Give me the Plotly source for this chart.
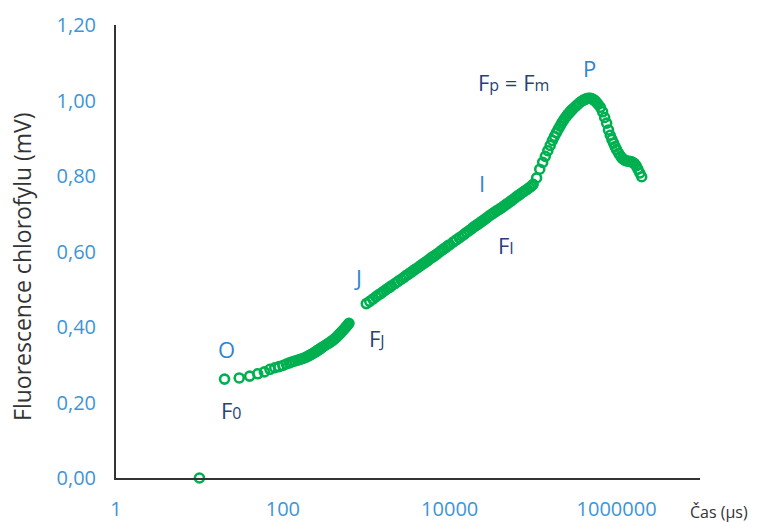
import plotly.graph_objects as go

# ---- data: time (µs) and chlorophyll fluorescence (mV) ----
time_a = [10, 20, 30, 40, 50, 60, 70, 80, 90, 100, 110, 120, 130, 140, 150, 160, 170, 180,
          190, 200, 210, 220, 230, 240, 250, 260, 270, 280, 290, 300, 320, 340, 360, 380,
          400, 420, 440, 460, 480, 500, 520, 540, 560, 580, 600, 620]
fluor_a = [0.000, 0.262, 0.265, 0.270, 0.276, 0.281, 0.288, 0.292, 0.295, 0.298, 0.302, 0.305,
           0.308, 0.310, 0.312, 0.314, 0.316, 0.318, 0.320, 0.323, 0.325, 0.328, 0.330, 0.333,
           0.335, 0.338, 0.340, 0.342, 0.345, 0.347, 0.351, 0.355, 0.358, 0.362, 0.365, 0.369,
           0.373, 0.378, 0.382, 0.386, 0.390, 0.394, 0.398, 0.402, 0.406, 0.410]

time_b = [1000, 1100, 1200, 1300, 1400, 1500, 1600, 1700, 1800, 1900, 2000, 2200, 2400, 2600,
          2800, 3000, 3200, 3400, 3600, 3800, 4000, 4250, 4500, 4750, 5000, 5300, 5600, 6000,
          6300, 6600, 7000, 7500, 8000, 8500, 9000, 9500, 10000, 11000, 12000, 13000, 14000,
          15000, 16000, 17000, 18000, 19000, 20000, 21000, 22000, 23000, 24000, 25000, 26500,
          28000, 30000, 32000, 34000, 36000, 38000, 40000, 42500, 45000, 47500, 50000, 53000,
          56000, 60000, 63000, 66000, 70000, 75000, 80000, 85000, 90000, 95000, 100000]
fluor_b = [0.462, 0.468, 0.474, 0.480, 0.485, 0.489, 0.494, 0.498, 0.502, 0.505, 0.509, 0.515,
           0.521, 0.526, 0.531, 0.536, 0.540, 0.544, 0.548, 0.552, 0.555, 0.559, 0.563, 0.567,
           0.570, 0.574, 0.578, 0.583, 0.586, 0.589, 0.593, 0.598, 0.603, 0.607, 0.611, 0.615,
           0.618, 0.625, 0.631, 0.636, 0.641, 0.646, 0.651, 0.655, 0.659, 0.663, 0.667, 0.670,
           0.673, 0.676, 0.679, 0.682, 0.686, 0.690, 0.695, 0.699, 0.703, 0.707, 0.710, 0.713,
           0.717, 0.721, 0.725, 0.728, 0.732, 0.736, 0.741, 0.745, 0.748, 0.752, 0.757, 0.761,
           0.765, 0.769, 0.773, 0.778]

time_c = [110000, 120000, 130000, 140000, 150000, 160000, 170000, 180000, 190000, 200000,
          210000, 220000, 230000, 240000, 250000, 260000, 270000, 280000, 290000, 300000,
          320000, 340000, 360000, 380000, 400000, 420000, 440000, 460000, 480000, 500000,
          520000, 540000, 560000, 580000, 600000, 640000, 680000, 720000, 760000, 800000,
          840000, 880000, 920000, 960000, 1000000, 1060000, 1120000, 1180000, 1250000,
          1320000, 1400000, 1480000, 1560000, 1640000, 1720000, 1800000, 1900000, 2000000]
fluor_c = [0.795, 0.818, 0.836, 0.852, 0.867, 0.881, 0.894, 0.905, 0.915, 0.924, 0.932, 0.940,
           0.947, 0.953, 0.958, 0.963, 0.967, 0.971, 0.975, 0.978, 0.984, 0.989, 0.994, 0.998,
           1.001, 1.003, 1.005, 1.006, 1.006, 1.005, 1.003, 1.001, 0.998, 0.994, 0.990, 0.982,
           0.970, 0.955, 0.940, 0.922, 0.908, 0.897, 0.887, 0.878, 0.870, 0.860, 0.852, 0.846,
           0.842, 0.840, 0.839, 0.838, 0.836, 0.833, 0.827, 0.818, 0.808, 0.798]

time_us = time_a + time_b + time_c
fluor_mv = fluor_a + fluor_b + fluor_c

x_tick_vals = [1, 100, 10000, 1000000]
x_tick_text = ["1", "100", "10000", "1000000"]
y_tick_vals = [0.0, 0.2, 0.4, 0.6, 0.8, 1.0, 1.2]

GREEN = "#00B050"
TICK_BLUE = "#3D95D8"
LETTER_BLUE = "#2E84D0"
NAVY = "#2A3F78"
FONT = "Open Sans"

fig = go.Figure()
fig.add_trace(go.Scatter(
    x=time_us, y=fluor_mv, mode="markers", cliponaxis=False,
    marker=dict(symbol="circle-open", size=9, color=GREEN, line=dict(width=2.6, color=GREEN)),
    showlegend=False,
))

small = "<span style='font-size:16px'>{}</span>"
labels = [
    # text, x (log10 µs), y (mV), color
    ("O", 1.33, 0.342, LETTER_BLUE),
    ("F" + small.format("0"), 1.38, 0.180, NAVY),
    ("J", 2.90, 0.532, LETTER_BLUE),
    ("F" + small.format("J"), 3.13, 0.371, NAVY),
    ("I", 4.39, 0.781, LETTER_BLUE),
    ("F" + small.format("I"), 4.67, 0.617, NAVY),
    ("F" + small.format("p") + " = F" + small.format("m"), 4.76, 1.049, NAVY),
    ("P", 5.68, 1.086, LETTER_BLUE),
]
for text, lx, ly, col in labels:
    fig.add_annotation(x=lx, y=ly, xref="x", yref="y", text=text, showarrow=False,
                       xanchor="center", yanchor="middle",
                       font=dict(family=FONT, size=22, color=col))

fig.add_annotation(x=-0.161, y=0.468, xref="paper", yref="paper",
                   text="Fluorescence chlorofylu (mV)", textangle=-90, showarrow=False,
                   xanchor="center", yanchor="middle",
                   font=dict(family=FONT, size=23, color="#333333"))
fig.add_annotation(x=1.0, y=-0.076, xref="paper", yref="paper", text="Čas (µs)",
                   showarrow=False, xanchor="left", yanchor="middle", xshift=-12,
                   font=dict(family=FONT, size=16, color="#333333"))

fig.update_layout(
    width=763, height=522,
    margin=dict(l=116, r=63, t=25, b=44),
    paper_bgcolor="white", plot_bgcolor="white",
    separators=", ",
    font=dict(family=FONT),
    xaxis=dict(type="log", range=[0, 7], showgrid=False, zeroline=False, automargin=False,
               showline=True, linecolor="#333333", linewidth=2,
               tickvals=x_tick_vals, ticktext=x_tick_text, ticks="",
               ticklabelstandoff=12,
               tickfont=dict(family=FONT, size=20, color=TICK_BLUE)),
    yaxis=dict(range=[0, 1.2], showgrid=False, zeroline=False, automargin=False,
               showline=True, linecolor="#333333", linewidth=2,
               tickvals=y_tick_vals, tickformat=".2f", ticks="",
               ticklabelstandoff=14,
               tickfont=dict(family=FONT, size=20, color=TICK_BLUE)),
)

fig.write_html("out.html")
